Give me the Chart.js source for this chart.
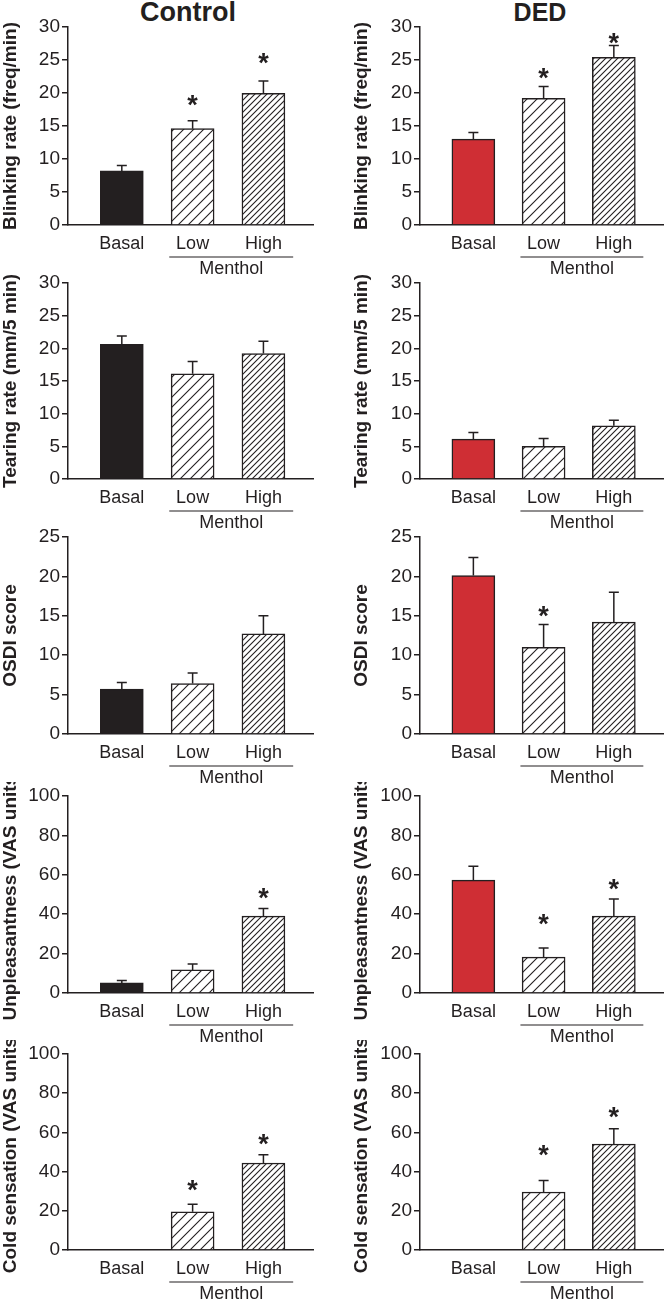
<!DOCTYPE html>
<html lang="en">
<head>
<meta charset="UTF-8" />
<title>Menthol – Control vs DED</title>
<script src="https://cdn.jsdelivr.net/npm/chart.js"></script>
<style>
  body { margin: 0; background: #fff; font-family: "Liberation Sans", Arial, sans-serif; }
  #page { position: relative; width: 665px; height: 1301px; overflow: hidden; }
  .head { position: absolute; font-weight: bold; color: #231f20; text-align: center; white-space: nowrap; }
  canvas { position: absolute; }
</style>
</head>
<body>
<div id="page">
  <div class="head" style="left:88px;width:200px;top:-1px;font-size:27px;line-height:27px;">Control</div>
  <div class="head" style="left:440px;width:200px;top:0px;font-size:25px;line-height:25px;">DED</div>
</div>
<script>
const categories = ["Basal", "Low", "High"];

// blinking rate (freq/min)
const blinkCtrl = [8.2, 14.6, 19.95];
const blinkCtrlSem = [0.8, 1.2, 1.85];
const blinkCtrlStar = [null, 18.9, 25.3];
const blinkDed = [13.0, 19.2, 25.4];
const blinkDedSem = [1.0, 1.8, 1.8];
const blinkDedStar = [null, 23.0, 28.3];

// tearing rate (mm/5 min)
const tearCtrl = [20.6, 16.1, 19.2];
const tearCtrlSem = [1.3, 1.9, 1.9];
const tearDed = [6.1, 5.0, 8.15];
const tearDedSem = [1.0, 1.2, 0.85];

// OSDI score
const osdiCtrl = [5.7, 6.4, 12.7];
const osdiCtrlSem = [0.85, 1.35, 2.3];
const osdiDed = [20.1, 11.0, 14.2];
const osdiDedSem = [2.3, 2.9, 3.8];
const osdiDedStar = [null, 15.6, null];

// unpleasantness (VAS units)
const unplCtrl = [5.1, 11.7, 39.0];
const unplCtrlSem = [1.2, 3.0, 3.9];
const unplCtrlStar = [null, null, 50.3];
const unplDed = [57.3, 18.2, 39.0];
const unplDedSem = [7.1, 4.7, 8.7];
const unplDedStar = [null, 37.2, 54.9];

// cold sensation (VAS units)
const coldCtrl = [0, 19.5, 44.4];
const coldCtrlSem = [null, 3.8, 4.2];
const coldCtrlStar = [null, 32.8, 56.5];
const coldDed = [0, 29.6, 54.1];
const coldDedSem = [null, 5.8, 7.8];
const coldDedStar = [null, 50.9, 70.2];

const INK = "#231f20";
const RED = "#cf2e34";
const FONT = "'Liberation Sans', Arial, sans-serif";
Chart.defaults.font.family = FONT;

const rowTop = [27, 283, 537, 796, 1054];
const rowZero = [225, 479, 734, 993, 1250];

const panels = [
  { row: 0, col: 0, v: blinkCtrl, e: blinkCtrlSem, s: blinkCtrlStar, max: 30, step: 5, t: "Blinking rate (freq/min)" },
  { row: 0, col: 1, v: blinkDed, e: blinkDedSem, s: blinkDedStar, max: 30, step: 5, t: "Blinking rate (freq/min)" },
  { row: 1, col: 0, v: tearCtrl, e: tearCtrlSem, s: [], max: 30, step: 5, t: "Tearing rate (mm/5 min)" },
  { row: 1, col: 1, v: tearDed, e: tearDedSem, s: [], max: 30, step: 5, t: "Tearing rate (mm/5 min)" },
  { row: 2, col: 0, v: osdiCtrl, e: osdiCtrlSem, s: [], max: 25, step: 5, t: "OSDI score" },
  { row: 2, col: 1, v: osdiDed, e: osdiDedSem, s: osdiDedStar, max: 25, step: 5, t: "OSDI score" },
  { row: 3, col: 0, v: unplCtrl, e: unplCtrlSem, s: unplCtrlStar, max: 100, step: 20, t: "Unpleasantness (VAS units)" },
  { row: 3, col: 1, v: unplDed, e: unplDedSem, s: unplDedStar, max: 100, step: 20, t: "Unpleasantness (VAS units)" },
  { row: 4, col: 0, v: coldCtrl, e: coldCtrlSem, s: coldCtrlStar, max: 100, step: 20, t: "Cold sensation (VAS units)" },
  { row: 4, col: 1, v: coldDed, e: coldDedSem, s: coldDedStar, max: 100, step: 20, t: "Cold sensation (VAS units)" }
];

function hatch(gap) {
  const c = document.createElement("canvas");
  c.width = gap; c.height = gap;
  const g = c.getContext("2d");
  g.fillStyle = "#fff";
  g.fillRect(0, 0, gap, gap);
  g.strokeStyle = INK;
  g.lineWidth = 1.1;
  g.beginPath();
  g.moveTo(-1, gap + 1); g.lineTo(gap + 1, -1);
  g.moveTo(-gap / 2, gap / 2); g.lineTo(gap / 2, -gap / 2);
  g.moveTo(gap / 2, gap * 1.5); g.lineTo(gap * 1.5, gap / 2);
  g.stroke();
  return g.createPattern(c, "repeat");
}

// error bars, asterisks and the Menthol bracket
const marks = {
  id: "marks",
  afterDatasetsDraw(chart, args, o) {
    const { ctx, chartArea, scales: { x, y } } = chart;
    ctx.save();
    ctx.strokeStyle = INK;
    ctx.fillStyle = INK;
    ctx.lineWidth = 1.5;
    o.values.forEach((v, i) => {
      if (o.sem[i] == null) return;
      const px = x.getPixelForValue(i + 1);
      const y0 = y.getPixelForValue(v);
      const y1 = y.getPixelForValue(v + o.sem[i]);
      ctx.beginPath();
      ctx.moveTo(px, y0); ctx.lineTo(px, y1);
      ctx.moveTo(px - 5, y1); ctx.lineTo(px + 5, y1);
      ctx.stroke();
    });

    ctx.font = "bold 27px " + FONT;
    ctx.textAlign = "center";
    ctx.textBaseline = "alphabetic";
    const m = ctx.measureText("*");
    const shift = (m.actualBoundingBoxAscent - m.actualBoundingBoxDescent) / 2;
    o.stars.forEach((s, i) => {
      if (s == null) return;
      ctx.fillText("*", x.getPixelForValue(i + 1), y.getPixelForValue(s) + shift);
    });

    const by = chartArea.bottom + 32;
    const x0 = x.getPixelForValue(2 - 0.33);
    const x1 = x.getPixelForValue(3 + 0.42);
    ctx.lineWidth = 1.2;
    ctx.beginPath();
    ctx.moveTo(x0, by); ctx.lineTo(x1, by);
    ctx.stroke();
    ctx.font = "18px " + FONT;
    ctx.fillText("Menthol", (x0 + x1) / 2, chartArea.bottom + 49);
    ctx.restore();
  }
};

const page = document.getElementById("page");

panels.forEach(p => {
  const left = p.col ? 333 : 0;
  const width = p.col ? 332 : 333;
  const padTop = 14, xH = 52;
  const top = rowTop[p.row] - padTop;
  const height = rowZero[p.row] - rowTop[p.row] + padTop + xH;

  const cv = document.createElement("canvas");
  cv.width = width; cv.height = height;
  cv.style.left = left + "px";
  cv.style.top = top + "px";
  cv.style.width = width + "px";
  cv.style.height = height + "px";
  page.appendChild(cv);

  new Chart(cv, {
    type: "bar",
    data: {
      datasets: [{
        data: p.v.map((v, i) => ({ x: i + 1, y: v })),
        backgroundColor: [p.col ? RED : INK, hatch(10), hatch(6)],
        borderColor: INK,
        borderWidth: 1.5,
        barThickness: 43
      }]
    },
    options: {
      responsive: false,
      animation: false,
      layout: { padding: { top: padTop, right: p.col ? 2 : 20, bottom: 0, left: 0 } },
      plugins: {
        legend: { display: false },
        tooltip: { enabled: false },
        marks: { values: p.v, sem: p.e, stars: p.s }
      },
      scales: {
        x: {
          type: "linear",
          min: 0.24,
          max: 3.7,
          offset: false,
          afterBuildTicks: s => { s.ticks = [1, 2, 3].map(v => ({ value: v })); },
          afterFit: s => { s.height = xH; },
          grid: { display: false, drawTicks: false, offset: false },
          border: { color: INK, width: 1.5 },
          ticks: {
            callback: v => categories[v - 1],
            font: { size: 18 },
            color: INK,
            padding: 8,
            maxRotation: 0,
            autoSkip: false
          }
        },
        y: {
          min: 0,
          max: p.max,
          afterFit: s => { s.width = p.col ? 87 : 68; },
          ticks: { stepSize: p.step, font: { size: 19 }, color: INK, padding: 2 },
          grid: { drawOnChartArea: false, tickLength: 6, color: INK, lineWidth: 1.5 },
          border: { color: INK, width: 1.5 },
          title: {
            display: true,
            text: p.t,
            font: { size: 19, weight: "bold" },
            color: INK,
            padding: { top: p.col ? 17 : -1, bottom: 0 }
          }
        }
      }
    },
    plugins: [marks]
  });
});
</script>
</body>
</html>
